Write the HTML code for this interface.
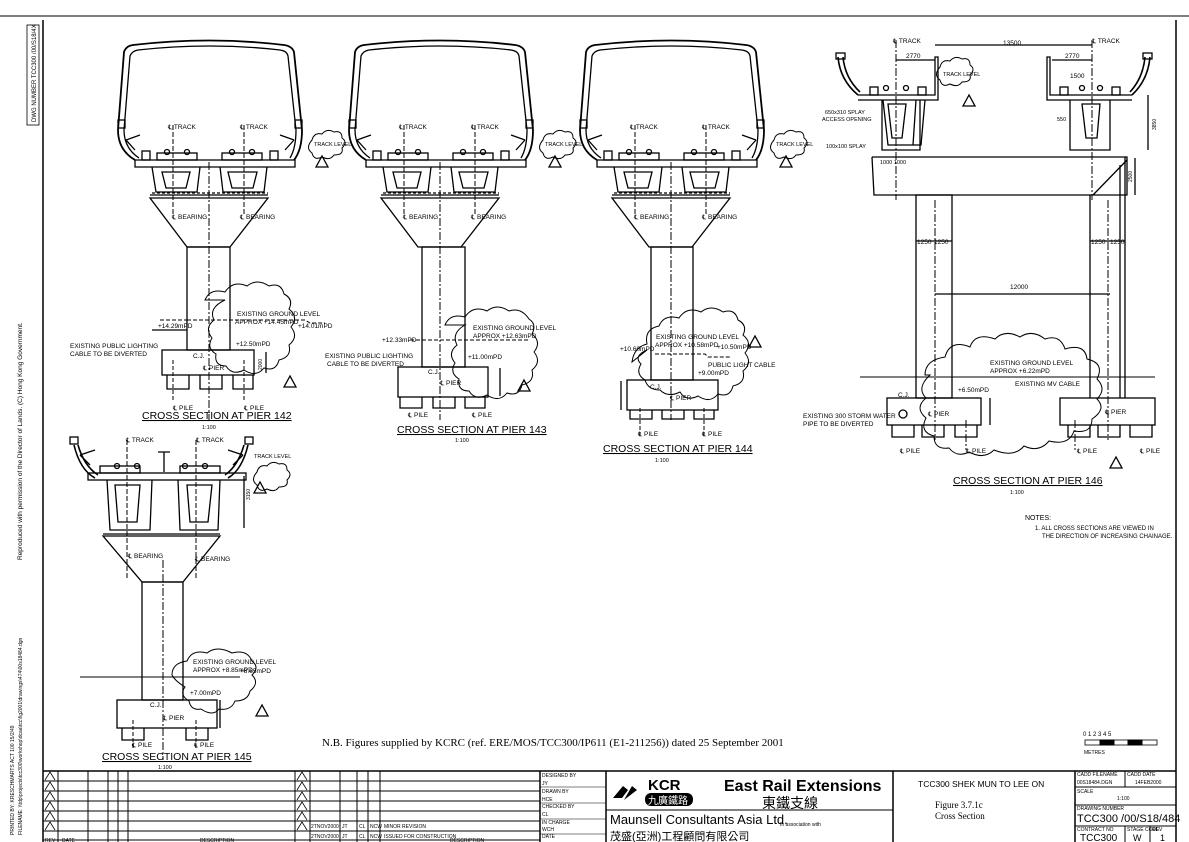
<!DOCTYPE html>
<html><head><meta charset="utf-8"><style>
html,body{margin:0;padding:0;background:#fff;}
svg{display:block;}
text{font-family:"Liberation Sans Narrow","Liberation Sans","Noto Sans CJK TC",sans-serif;fill:#000;}
</style></head><body>
<svg width="1189" height="842" viewBox="0 0 1189 842" xmlns="http://www.w3.org/2000/svg">
<defs>
<g id="sup" fill="none" stroke="#000" stroke-width="1.3">
  <!-- enclosure -->
  <path d="M135,160 Q118,150 118,130 L124,52 Q126,46 133,45 Q210,36 284,45 Q292,46 294,52 L302,130 Q302,150 294,160" stroke-width="1.8"/>
  <path d="M139,158 Q124,148 124,130 L130,56 Q132,51 138,50 Q210,42 280,50 Q287,51 288,56 L296,130 Q296,148 290,158"/>
  <rect x="118" y="120" width="7" height="8"/><rect x="295" y="120" width="7" height="8"/>
  <path d="M126,140 L140,135 M126,140 L135,150 M294,140 L280,135 M294,140 L285,150"/>
  <!-- rails/plinths -->
  <rect x="157" y="153" width="40" height="7"/><rect x="222" y="153" width="40" height="7"/>
  <circle cx="167" cy="152" r="2.5"/><circle cx="187" cy="152" r="2.5"/><circle cx="232" cy="152" r="2.5"/><circle cx="252" cy="152" r="2.5"/>
  <rect x="142" y="151" width="8" height="9"/><rect x="270" y="151" width="8" height="9"/>
  <!-- deck slab -->
  <path d="M135,160 L295,160 L295,167 L135,167 Z"/>
  <!-- box girders -->
  <path d="M152,167 L156,192 L197,192 L200,167"/>
  <path d="M220,167 L223,192 L264,192 L267,167"/>
  <path d="M162,172 L190,172 L186,188 L166,188 Z"/>
  <path d="M228,172 L257,172 L253,188 L232,188 Z"/>
  <path d="M152,193 L268,193" stroke-dasharray="3,2"/>
  <!-- pier head -->
  <path d="M150,198 L268,198 L230,247 L187,247 Z"/>
  <line x1="150" y1="195" x2="268" y2="195"/>
  <line x1="209" y1="162" x2="209" y2="420" stroke-dasharray="8,2,2,2" stroke-width="1"/>
  <line x1="173" y1="125" x2="173" y2="215" stroke-dasharray="5,2" stroke-width="1"/>
  <line x1="244" y1="125" x2="244" y2="215" stroke-dasharray="5,2" stroke-width="1"/>
</g>
<g id="cl" fill="#000" font-size="6.5"></g>
</defs>

<!-- border -->
<g fill="none" stroke="#000">
<line x1="0" y1="16" x2="1189" y2="16" stroke-width="1.5" stroke="#555"/>
<line x1="43" y1="20" x2="43" y2="842" stroke-width="1.5"/>
<line x1="1176" y1="20" x2="1176" y2="771" stroke-width="1.5"/>
<rect x="27" y="25" width="12" height="100" stroke-width="0.8"/>
</g>
<text font-size="6" transform="translate(36,122) rotate(-90)">DWG NUMBER  TCC300 /00/S18/4X</text>
<text font-size="6.5" transform="translate(22,560) rotate(-90)">Reproduced with permission of the Director of Lands. (C) Hong Kong Government.</text>
<text font-size="5" transform="translate(14,835) rotate(-90)">PRINTED BY: KRESCHMARTS ACT 100  15/2/49</text>
<text font-size="5" transform="translate(22,835) rotate(-90)">FILENAME: \\tdp\projects\tcc300\workshop\dcaa\tcc\fig2001\drawings\474\00s18484.dgn</text>

<!-- PIER 142 -->
<use href="#sup"/>
<g fill="none" stroke="#000" stroke-width="1.3">
 <rect x="187" y="247" width="43" height="103"/>
 <rect x="162" y="350" width="92" height="25"/>
 <path d="M167,375 v14 h22 v-14 M200,375 v14 h22 v-14 M233,375 v14 h20 v-14"/>
 <path d="M160,320 L187,320 M187,320 L295,320 M295,320 L305,320 L310,323 L325,323" stroke-dasharray="4,2" stroke-width="1"/>
 <path d="M205,300 q5,-12 20,-8 q8,-12 22,-6 q10,-8 22,0 q12,-4 15,8 q10,5 5,15 q10,8 2,18 q8,10 -2,18 q3,12 -10,15 q-3,12 -15,8 q-8,10 -20,2 q-12,6 -18,-4 q-12,0 -10,-12 q-10,-6 -4,-16 q-8,-10 2,-18 q-6,-12 11,-20z" stroke-width="1"/>
 <path d="M312,140 q2,-8 10,-6 q5,-6 12,-2 q8,-2 8,6 q6,4 0,10 q2,7 -8,7 q-4,6 -12,2 q-8,4 -10,-4 q-7,-5 0,-13z" stroke-width="1"/>
 <path d="M322,156 l-6,11 h12z M290,376 l-6,11 h12z"/>
 <line x1="152" y1="330" x2="187" y2="330"/>
 <line x1="173" y1="360" x2="173" y2="400" stroke-dasharray="4,2" stroke-width="1"/>
 <line x1="244" y1="360" x2="244" y2="400" stroke-dasharray="4,2" stroke-width="1"/>
 <line x1="266" y1="352" x2="266" y2="373"/>
</g>
<g font-size="6.5">
 <text x="168" y="129">℄ TRACK</text><text x="240" y="129">℄ TRACK</text>
 <text x="314" y="146" font-size="5.5">TRACK LEVEL</text>
 <text x="172" y="219">℄ BEARING</text><text x="240" y="219">℄ BEARING</text>
 <text x="237" y="316">EXISTING GROUND LEVEL</text><text x="235" y="324">APPROX +14.45mPD</text>
 <text x="158" y="328">+14.29mPD</text><text x="298" y="328">+14.01mPD</text>
 <text x="236" y="346">+12.50mPD</text>
 <text x="70" y="348">EXISTING PUBLIC LIGHTING</text><text x="70" y="356">CABLE TO BE DIVERTED</text>
 <text x="193" y="358">C.J.</text><text x="203" y="370">℄ PIER</text>
 <text x="173" y="410">℄ PILE</text><text x="244" y="410">℄ PILE</text>
 <text x="262" y="370" font-size="5" transform="rotate(-90 262 370)">2000</text>
</g>
<text x="142" y="419" font-size="10.5" text-decoration="underline">CROSS SECTION AT PIER 142</text>
<text x="202" y="429" font-size="5.5">1:100</text>

<!-- PIER 143 -->
<use href="#sup" transform="translate(231,0)"/>
<g fill="none" stroke="#000" stroke-width="1.3">
 <rect x="422" y="247" width="43" height="120"/>
 <rect x="398" y="367" width="90" height="30"/>
 <path d="M400,397 v11 h22 v-11 M433,397 v11 h22 v-11 M465,397 v11 h20 v-11"/>
 <path d="M410,340 L530,340" stroke-dasharray="4,2" stroke-width="1"/>
 <path d="M445,325 q5,-12 20,-8 q8,-12 22,-6 q10,-8 22,0 q12,-4 20,8 q8,5 3,15 q10,8 2,18 q8,10 -2,18 q3,12 -10,15 q-3,12 -15,8 q-8,10 -20,2 q-12,6 -18,-4 q-12,0 -10,-12 q-10,-6 -4,-16 q-8,-10 2,-18 q-6,-12 8,-20z" stroke-width="1"/>
 <path d="M543,140 q2,-8 10,-6 q5,-6 12,-2 q8,-2 8,6 q6,4 0,10 q2,7 -8,7 q-4,6 -12,2 q-8,4 -10,-4 q-7,-5 0,-13z" stroke-width="1"/>
 <path d="M555,156 l-6,11 h12z M524,380 l-6,11 h12z"/>
 <line x1="500" y1="368" x2="500" y2="396"/>
</g>
<g font-size="6.5">
 <text x="399" y="129">℄ TRACK</text><text x="471" y="129">℄ TRACK</text>
 <text x="545" y="146" font-size="5.5">TRACK LEVEL</text>
 <text x="403" y="219">℄ BEARING</text><text x="471" y="219">℄ BEARING</text>
 <text x="473" y="330">EXISTING GROUND LEVEL</text><text x="473" y="338">APPROX +12.63mPD</text>
 <text x="382" y="342">+12.33mPD</text>
 <text x="468" y="359">+11.00mPD</text>
 <text x="325" y="358">EXISTING PUBLIC LIGHTING</text><text x="327" y="366">CABLE TO BE DIVERTED</text>
 <text x="428" y="374">C.J.</text><text x="440" y="385">℄ PIER</text>
 <text x="408" y="417">℄ PILE</text><text x="472" y="417">℄ PILE</text>
</g>
<text x="397" y="433" font-size="10.5" text-decoration="underline">CROSS SECTION AT PIER 143</text>
<text x="455" y="442" font-size="5.5">1:100</text>

<!-- PIER 144 -->
<use href="#sup" transform="translate(462,0)"/>
<g fill="none" stroke="#000" stroke-width="1.3">
 <rect x="651" y="247" width="42" height="133"/>
 <rect x="627" y="380" width="91" height="30"/>
 <path d="M630,410 v9 h22 v-9 M662,410 v9 h22 v-9 M694,410 v9 h20 v-9"/>
 <path d="M655,354 L705,354 L708,357 L730,357" stroke-dasharray="4,2" stroke-width="1"/>
 <path d="M632,362 q2,-15 15,-18 q-3,-15 12,-18 q5,-12 20,-8 q8,-12 22,-6 q10,-8 22,0 q12,-4 15,8 q10,5 5,15 q10,8 2,18 q8,10 -2,18 q3,12 -10,15 q-3,12 -15,8 q-8,10 -20,2 q-12,6 -18,-4 q-12,6 -20,-2 q-12,0 -15,-10 q-10,-6 -4,-16 q-8,-8 6,-14z" stroke-width="1"/>
 <path d="M774,140 q2,-8 10,-6 q5,-6 12,-2 q8,-2 8,6 q6,4 0,10 q2,7 -8,7 q-4,6 -12,2 q-8,4 -10,-4 q-7,-5 0,-13z" stroke-width="1"/>
 <path d="M786,156 l-6,11 h12z M755,336 l-6,11 h12z"/>
 <line x1="621" y1="381" x2="621" y2="410"/>
 <line x1="640" y1="408" x2="640" y2="436" stroke-dasharray="4,2" stroke-width="1"/>
 <line x1="704" y1="408" x2="704" y2="436" stroke-dasharray="4,2" stroke-width="1"/>
</g>
<g font-size="6.5">
 <text x="630" y="129">℄ TRACK</text><text x="702" y="129">℄ TRACK</text>
 <text x="776" y="146" font-size="5.5">TRACK LEVEL</text>
 <text x="634" y="219">℄ BEARING</text><text x="702" y="219">℄ BEARING</text>
 <text x="656" y="339">EXISTING GROUND LEVEL</text><text x="655" y="347">APPROX +10.58mPD</text>
 <text x="620" y="351">+10.60mPD</text><text x="717" y="349">+10.50mPD</text>
 <text x="708" y="367">PUBLIC LIGHT CABLE</text><text x="698" y="375">+9.00mPD</text>
 <text x="650" y="389">C.J.</text><text x="670" y="400">℄ PIER</text>
 <text x="638" y="436">℄ PILE</text><text x="702" y="436">℄ PILE</text>
</g>
<text x="603" y="452" font-size="10.5" text-decoration="underline">CROSS SECTION AT PIER 144</text>
<text x="655" y="462" font-size="5.5">1:100</text>

<!-- PIER 145 -->
<g fill="none" stroke="#000" stroke-width="1.3">
 <path d="M74,445 Q80,470 95,478 M78,445 Q84,466 98,475" stroke-width="1.6"/>
 <path d="M248,445 Q242,470 228,478 M244,445 Q238,466 225,475" stroke-width="1.6"/>
 <rect x="70" y="437" width="8" height="7"/><rect x="245" y="437" width="8" height="7"/>
 <path d="M80,455 L95,450 M80,455 L90,465 M243,455 L228,450 M243,455 L233,465"/>
 <rect x="100" y="466" width="40" height="7"/><rect x="180" y="466" width="40" height="7"/>
 <circle cx="117" cy="466" r="2.5"/><circle cx="137" cy="466" r="2.5"/><circle cx="185" cy="466" r="2.5"/><circle cx="205" cy="466" r="2.5"/>
 <path d="M158,452 h12 M164,452 v20"/>
 <rect x="88" y="473" width="158" height="7"/>
 <path d="M107,480 L110,530 L150,530 L152,480 M178,480 L180,530 L218,530 L220,480"/>
 <path d="M115,485 L140,485 L137,522 L118,522 Z M187,485 L212,485 L208,522 L190,522 Z"/>
 <line x1="103" y1="534" x2="220" y2="534"/>
 <path d="M103,536 L220,536 L183,582 L142,582 Z"/>
 <rect x="142" y="582" width="41" height="118"/>
 <rect x="117" y="700" width="100" height="28"/>
 <path d="M122,728 v12 h22 v-12 M186,728 v12 h22 v-12"/>
 <line x1="80" y1="677" x2="240" y2="677" stroke-width="1"/>
 <path d="M172,675 q0,-12 15,-14 q5,-12 20,-8 q10,-8 25,0 q15,-4 20,8 q8,6 0,14 q8,8 -2,16 q-2,10 -15,10 q-4,10 -16,8 q-6,8 -18,0 q-10,2 -12,-8 q-10,-6 -4,-14 q-10,-6 -13,-12z" stroke-width="1"/>
 <path d="M257,472 q2,-8 10,-6 q5,-6 12,-2 q8,-2 8,6 q6,4 0,10 q2,7 -8,7 q-4,6 -12,2 q-8,4 -10,-4 q-7,-5 0,-13z" stroke-width="1"/>
 <path d="M260,482 l-6,11 h12z M262,705 l-6,11 h12z"/>
 <line x1="244" y1="476" x2="244" y2="528"/><line x1="220" y1="700" x2="220" y2="728"/>
 <line x1="163" y1="560" x2="163" y2="760" stroke-dasharray="8,2,2,2" stroke-width="1"/>
 <line x1="127" y1="440" x2="127" y2="580" stroke-dasharray="5,2" stroke-width="1"/>
 <line x1="196" y1="440" x2="196" y2="580" stroke-dasharray="5,2" stroke-width="1"/>
 <line x1="133" y1="720" x2="133" y2="750" stroke-dasharray="4,2" stroke-width="1"/>
 <line x1="196" y1="720" x2="196" y2="750" stroke-dasharray="4,2" stroke-width="1"/>
</g>
<g font-size="6.5">
 <text x="126" y="442">℄ TRACK</text><text x="196" y="442">℄ TRACK</text>
 <text x="254" y="458" font-size="5.5">TRACK LEVEL</text>
 <text x="128" y="558">℄ BEARING</text><text x="195" y="561">℄ BEARING</text>
 <text x="193" y="664">EXISTING GROUND LEVEL</text><text x="193" y="672">APPROX +8.85mPD</text>
 <text x="240" y="673">+8.65mPD</text><text x="190" y="695">+7.00mPD</text>
 <text x="150" y="707">C.J.</text><text x="163" y="720">℄ PIER</text>
 <text x="132" y="747">℄ PILE</text><text x="194" y="747">℄ PILE</text>
 <text x="250" y="500" font-size="5" transform="rotate(-90 250 500)">3150</text>
</g>
<text x="102" y="760" font-size="10.5" text-decoration="underline">CROSS SECTION AT PIER 145</text>
<text x="158" y="769" font-size="5.5">1:100</text>

<!-- PIER 146 -->
<g fill="none" stroke="#000" stroke-width="1.3">
 <!-- left deck -->
 <path d="M838,57 Q840,80 858,95 M843,57 Q845,78 860,92" stroke-width="1.6"/>
 <rect x="836" y="53" width="9" height="6"/>
 <path d="M858,95 L935,95 L935,57 L938,57 L938,100 L858,100"/>
 <path d="M883,100 L888,145 L913,145 L916,100 M925,100 L921,145 L913,145"/>
 <path d="M882,100 L882,150 L920,150 L920,100"/>
 <path d="M888,104 L906,104 L902,138 L892,138 Z"/>
 <rect x="870" y="87" width="8" height="8"/><rect x="918" y="87" width="8" height="8"/>
 <circle cx="886" cy="88" r="2.5"/><circle cx="906" cy="88" r="2.5"/>
 <!-- right deck -->
 <path d="M1150,57 Q1148,80 1132,95 M1145,57 Q1143,78 1130,92" stroke-width="1.6"/>
 <rect x="1143" y="53" width="9" height="6"/>
 <path d="M1132,95 L1050,95 L1050,57 L1047,57 L1047,100 L1132,100"/>
 <path d="M1070,100 L1070,150 L1110,150 L1110,100"/>
 <path d="M1082,104 L1100,104 L1097,138 L1086,138 Z"/>
 <rect x="1060" y="87" width="8" height="8"/><rect x="1112" y="87" width="8" height="8"/>
 <circle cx="1082" cy="88" r="2.5"/><circle cx="1100" cy="88" r="2.5"/>
 <!-- crossbeam -->
 <path d="M872,157 L1127,157 L1127,195 L1093,195 L1127,160 M872,157 L874,195 L1093,195"/>
 <path d="M1125,157 L1125,398 M1120,165 L1120,398"/>
 <rect x="916" y="195" width="36" height="203"/>
 <line x1="1090" y1="195" x2="1090" y2="398"/>
 <rect x="887" y="398" width="94" height="27"/>
 <rect x="1060" y="398" width="95" height="27"/>
 <path d="M892,425 v12 h22 v-12 M922,425 v12 h22 v-12 M955,425 v12 h22 v-12 M1068,425 v12 h22 v-12 M1098,425 v12 h22 v-12 M1130,425 v12 h22 v-12"/>
 <line x1="860" y1="377" x2="1155" y2="377" stroke-width="1"/>
 <path d="M925,375 q0,-15 20,-18 q5,-18 25,-10 q5,-15 25,-8 q10,-10 25,-2 q12,-8 25,2 q15,-5 20,10 q20,-6 22,10 q18,4 10,20 q10,10 0,20 q10,10 -5,20 q0,15 -18,12 q-5,15 -25,10 q-10,12 -25,5 q-10,12 -30,4 q-10,10 -25,2 q-12,6 -20,-4 q-15,2 -15,-12 q-15,-4 -8,-18 q-12,-10 0,-20 q-10,-10 4,-23z" stroke-width="1"/>
 <path d="M940,67 q2,-8 10,-6 q5,-6 12,-2 q8,-2 8,6 q6,4 0,10 q2,7 -8,7 q-4,6 -12,2 q-8,4 -10,-4 q-7,-5 0,-13z" stroke-width="1"/>
 <path d="M969,95 l-6,11 h12z M1116,457 l-6,11 h12z"/>
 <circle cx="903" cy="414" r="4"/>
 <line x1="935" y1="45" x2="1092" y2="45"/>
 <line x1="896" y1="60" x2="935" y2="60"/><line x1="1052" y1="60" x2="1092" y2="60"/>
 <line x1="935" y1="294" x2="1110" y2="294"/>
 <line x1="916" y1="241" x2="952" y2="241"/><line x1="1090" y1="241" x2="1125" y2="241"/>
 <line x1="1148" y1="95" x2="1148" y2="150"/><line x1="1135" y1="158" x2="1135" y2="195"/>
 <line x1="990" y1="398" x2="990" y2="425"/>
 <g stroke-dasharray="8,2,2,2" stroke-width="1">
 <line x1="896" y1="40" x2="896" y2="200"/><line x1="1092" y1="40" x2="1092" y2="200"/>
 <line x1="935" y1="200" x2="935" y2="440"/><line x1="1108" y1="200" x2="1108" y2="440"/>
 <line x1="966" y1="420" x2="966" y2="450"/><line x1="1075" y1="420" x2="1075" y2="450"/>
 </g>
</g>
<g font-size="6.5">
 <text x="893" y="43">℄ TRACK</text><text x="1092" y="43">℄ TRACK</text>
 <text x="1003" y="45">13500</text>
 <text x="906" y="58">2770</text><text x="1065" y="58">2770</text>
 <text x="1070" y="78">1500</text>
 <text x="943" y="76" font-size="5.5">TRACK LEVEL</text>
 <text x="825" y="114" font-size="5.5">650x310 SPLAY</text><text x="822" y="121" font-size="5.5">ACCESS OPENING</text>
 <text x="826" y="148" font-size="5.5">100x100 SPLAY</text>
 <text x="880" y="164" font-size="5.5">1000 1000</text>
 <text x="1057" y="121" font-size="5.5">550</text>
 <text x="917" y="244">1250</text><text x="934" y="244">1250</text>
 <text x="1091" y="244">1250</text><text x="1110" y="244">1250</text>
 <text x="1010" y="289">12000</text>
 <text x="990" y="365">EXISTING GROUND LEVEL</text><text x="990" y="373">APPROX +6.22mPD</text>
 <text x="1015" y="386">EXISTING MV CABLE</text>
 <text x="958" y="392">+6.50mPD</text>
 <text x="898" y="397">C.J.</text><text x="928" y="416">℄ PIER</text><text x="1105" y="414">℄ PIER</text>
 <text x="803" y="418">EXISTING 300 STORM WATER</text><text x="803" y="426">PIPE TO BE DIVERTED</text>
 <text x="900" y="453">℄ PILE</text><text x="966" y="453">℄ PILE</text>
 <text x="1077" y="453">℄ PILE</text><text x="1140" y="453">℄ PILE</text>
 <text x="1156" y="130" font-size="5" transform="rotate(-90 1156 130)">3850</text>
 <text x="1132" y="182" font-size="5" transform="rotate(-90 1132 182)">2500</text>
</g>
<text x="953" y="484" font-size="10.5" text-decoration="underline">CROSS SECTION AT PIER 146</text>
<text x="1010" y="494" font-size="5.5">1:100</text>

<!-- notes -->
<text x="1025" y="520" font-size="7">NOTES:</text>
<text x="1035" y="530" font-size="6">1. ALL CROSS SECTIONS ARE VIEWED IN</text>
<text x="1042" y="538" font-size="6">THE DIRECTION OF INCREASING CHAINAGE.</text>
<g stroke="#000" fill="none">
 <rect x="1085" y="740" width="72" height="5" stroke-width="0.8"/>
 <rect x="1100" y="740" width="14" height="5" fill="#000"/><rect x="1128" y="740" width="14" height="5" fill="#000"/>
</g>
<text x="1083" y="736" font-size="6">0   1    2    3    4    5</text>
<text x="1084" y="754" font-size="5">METRES</text>

<text x="322" y="746" font-family="Liberation Serif" font-size="11" style="font-family:'Liberation Serif',serif">N.B. Figures supplied by KCRC (ref. ERE/MOS/TCC300/IP611 (E1-211256)) dated 25 September 2001</text>

<!-- title block -->
<g stroke="#000" fill="none" stroke-width="1">
 <line x1="43" y1="771" x2="1176" y2="771" stroke-width="1.5"/>
 <line x1="43" y1="781" x2="540" y2="781"/><line x1="43" y1="791" x2="540" y2="791"/>
 <line x1="43" y1="801" x2="540" y2="801"/><line x1="43" y1="811" x2="540" y2="811"/>
 <line x1="43" y1="821" x2="540" y2="821"/><line x1="43" y1="831" x2="540" y2="831"/>
 <line x1="43" y1="840" x2="540" y2="840"/>
 <line x1="58" y1="771" x2="58" y2="842"/><line x1="88" y1="771" x2="88" y2="842"/>
 <line x1="108" y1="771" x2="108" y2="842"/><line x1="118" y1="771" x2="118" y2="842"/>
 <line x1="128" y1="771" x2="128" y2="842"/><line x1="295" y1="771" x2="295" y2="842"/>
 <line x1="310" y1="771" x2="310" y2="842"/><line x1="340" y1="771" x2="340" y2="842"/>
 <line x1="357" y1="771" x2="357" y2="842"/><line x1="368" y1="771" x2="368" y2="842"/>
 <line x1="380" y1="771" x2="380" y2="842"/>
 <line x1="540" y1="771" x2="540" y2="842" stroke-width="1.5"/>
 <line x1="606" y1="771" x2="606" y2="842" stroke-width="1.5"/>
 <line x1="893" y1="771" x2="893" y2="842" stroke-width="1.5"/>
 <line x1="1075" y1="771" x2="1075" y2="842" stroke-width="1.5"/>
 <line x1="606" y1="810" x2="893" y2="810"/>
 <line x1="540" y1="787" x2="606" y2="787" stroke-width="0.6"/><line x1="540" y1="803" x2="606" y2="803" stroke-width="0.6"/>
 <line x1="540" y1="819" x2="606" y2="819" stroke-width="0.6"/><line x1="540" y1="834" x2="606" y2="834" stroke-width="0.6"/>
 <line x1="1075" y1="787" x2="1176" y2="787"/><line x1="1075" y1="805" x2="1176" y2="805"/>
 <line x1="1075" y1="826" x2="1176" y2="826"/>
 <line x1="1125" y1="771" x2="1125" y2="787"/>
 <line x1="1125" y1="826" x2="1125" y2="842"/><line x1="1150" y1="826" x2="1150" y2="842"/>
 <line x1="1176" y1="771" x2="1176" y2="842" stroke-width="1.5"/>
 <g stroke-width="0.8">
 <path d="M45,780 l5,-8 l5,8 M45,790 l5,-8 l5,8 M45,800 l5,-8 l5,8 M45,810 l5,-8 l5,8 M45,820 l5,-8 l5,8 M45,830 l5,-8 l5,8"/>
 <path d="M297,780 l5,-8 l5,8 M297,790 l5,-8 l5,8 M297,800 l5,-8 l5,8 M297,810 l5,-8 l5,8 M297,820 l5,-8 l5,8 M297,830 l5,-8 l5,8"/>
 </g>
</g>
<g font-size="5">
 <text x="311" y="828">2TNOV2000</text><text x="342" y="828">JT</text><text x="359" y="828">CL</text><text x="370" y="828">NCW</text><text x="384" y="828">MINOR REVISION</text>
 <text x="311" y="838">2TNOV2000</text><text x="342" y="838">JT</text><text x="359" y="838">CL</text><text x="370" y="838">NCW</text><text x="384" y="838">ISSUED FOR CONSTRUCTION</text>
 <text x="45" y="842">REV</text><text x="62" y="842">DATE</text><text x="200" y="842">DESCRIPTION</text><text x="450" y="842">DESCRIPTION</text>
 <text x="542" y="777">DESIGNED BY</text><text x="542" y="785">JY</text>
 <text x="542" y="793">DRAWN BY</text><text x="542" y="801">HCE</text>
 <text x="542" y="808">CHECKED BY</text><text x="542" y="816">CL</text>
 <text x="542" y="824">IN CHARGE</text><text x="542" y="831">WCH</text>
 <text x="542" y="838">DATE</text>
 <text x="1077" y="776">CADD FILENAME</text><text x="1077" y="784">00S18484.DGN</text>
 <text x="1127" y="776">CADD DATE</text><text x="1135" y="784">14FEB2000</text>
 <text x="1077" y="793">SCALE</text><text x="1117" y="800">1:100</text>
 <text x="1077" y="810">DRAWING NUMBER</text>
 <text x="1077" y="831">CONTRACT NO</text><text x="1127" y="831">STAGE CODE</text><text x="1152" y="831">REV</text>
 <text x="780" y="826">In association with</text>
</g>
<text x="1077" y="822" font-size="11">TCC300 /00/S18/484</text>
<text x="1080" y="841" font-size="10">TCC300</text><text x="1133" y="841" font-size="9">W</text><text x="1160" y="841" font-size="9">1</text>
<!-- KCR logo -->
<path d="M613,798 l10,-12 l5,4 l-6,8 z M624,800 l8,-14 l5,4 z" fill="#000"/>
<text x="648" y="790" font-size="15" font-weight="bold">KCR</text>
<rect x="645" y="793" width="48" height="13" rx="6" fill="#000"/>
<text x="648" y="804" font-size="10" style="fill:#fff">九廣鐵路</text>
<text x="724" y="791" font-size="16" font-weight="bold">East Rail Extensions</text>
<text x="762" y="808" font-size="14">東鐵支線</text>
<text x="610" y="824" font-size="13">Maunsell Consultants  Asia  Ltd.</text>
<text x="610" y="840" font-size="11">茂盛(亞洲)工程顧問有限公司</text>
<text x="918" y="787" font-size="8.5">TCC300 SHEK MUN TO LEE ON</text>
<text x="935" y="808" font-size="9" style="font-family:'Liberation Serif',serif">Figure 3.7.1c</text>
<text x="935" y="819" font-size="9" style="font-family:'Liberation Serif',serif">Cross Section</text>
</svg>
</body></html>
